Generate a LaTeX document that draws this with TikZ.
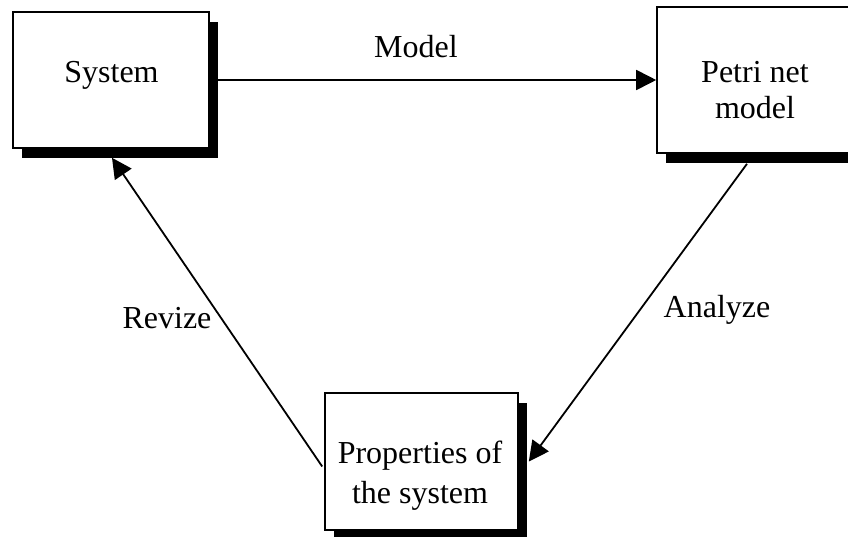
\documentclass[tikz,border=0pt]{standalone}
\usepackage{fontspec}
\setmainfont{Liberation Serif}
\usetikzlibrary{arrows.meta,shadows}
\begin{document}
\begin{tikzpicture}[x=1pt,y=-1pt,
  every node/.style={font=\fontsize{32}{36}\selectfont},
  block/.style={draw=black, line width=1.6pt, fill=white, inner sep=0pt,
    general shadow={fill=black, shadow xshift=9pt, shadow yshift=-9.5pt}},
  txt/.style={anchor=base, inner sep=0pt},
  flow/.style={line width=1.8pt, -{Triangle[length=20pt,width=20pt]}}]
  \useasboundingbox (0,0) rectangle (848,536);
  \clip (0,0) rectangle (848,536);
  \fill[white] (0,0) rectangle (848,536);

  % the three stages of the modelling loop
  \node[block, minimum width=196pt, minimum height=136pt] (sys) at (111,80) {};
  \node[block, minimum width=196pt, minimum height=146pt] (petri) at (755,80) {};
  \node[block, minimum width=193pt, minimum height=137pt] (prop) at (421.5,461.5) {};

  % box texts
  \node[txt] (systxt) at (111.5,82) {System};
  \node[txt] (petritxt1) at (755,82) {Petri net};
  \node[txt] (petritxt2) at (755,118) {model};
  \node[txt] (proptxt1) at (420,463) {Properties of};
  \node[txt] (proptxt2) at (420,503) {the system};

  % connectors
  \draw[flow] (sys.east) -- (petri.west);
  \draw[flow] ([shift={(-8,10)}]petri.south) -- ([shift={(10,0)}]prop.east);
  \draw[flow] ([shift={(-2,5)}]prop.west) -- ([shift={(1,9)}]sys.south);

  % connector labels
  \node[txt] (lmodel) at (416,57) {Model};
  \node[txt] (lanalyze) at (717,317) {Analyze};
  \node[txt] (lrevize) at (167,328) {Revize};
\end{tikzpicture}
\end{document}
